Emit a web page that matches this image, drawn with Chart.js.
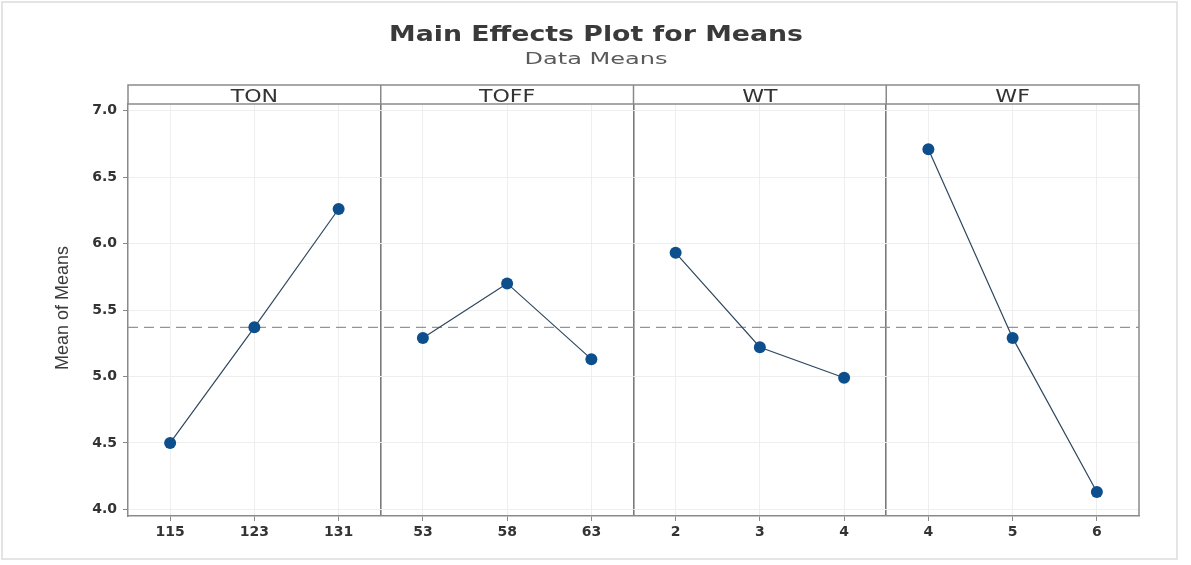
<!DOCTYPE html>
<html>
<head>
<meta charset="utf-8">
<script src="https://cdn.jsdelivr.net/npm/chart.js@4.4.1/dist/chart.umd.min.js"></script>
<style>
  html, body { margin: 0; padding: 0; background: #ffffff; }
  #wrap { width: 1191px; height: 565px; position: relative; }
</style>
</head>
<body>
<div id="wrap"><canvas id="c" width="1191" height="565"></canvas></div>
<script>
// ---- data ----
const chartTitle = 'Main Effects Plot for Means';
const chartSubtitle = 'Data Means';
const yAxisTitle = 'Mean of Means';
const factors = ['TON', 'TOFF', 'WT', 'WF'];
const tonLevels = ['115', '123', '131'];
const toffLevels = ['53', '58', '63'];
const wtLevels = ['2', '3', '4'];
const wfLevels = ['4', '5', '6'];
const tonMeans = [4.50, 5.37, 6.26];
const toffMeans = [5.29, 5.70, 5.13];
const wtMeans = [5.93, 5.22, 4.99];
const wfMeans = [6.71, 5.29, 4.13];
const grandMean = 5.37;
const yTicks = [4.0, 4.5, 5.0, 5.5, 6.0, 6.5, 7.0];
const yMin = 3.95, yMax = 7.05;

const levelSets = [tonLevels, toffLevels, wtLevels, wfLevels];
const meanSets = [tonMeans, toffMeans, wtMeans, wfMeans];
const nPanels = factors.length;
const perPanel = 3;
const xMax = nPanels * perPanel;

// category slot position on shared x scale
function slot(p, i) { return p * perPanel + i + 0.5; }
function isDivider(v) { return v > 0 && v < xMax && Math.abs(v % perPanel) < 1e-9; }
function labelAt(v) {
  if (Math.abs((v % 1) - 0.5) > 1e-9) return '';
  const p = Math.floor(v / perPanel);
  const i = Math.round(v - p * perPanel - 0.5);
  return (levelSets[p] && levelSets[p][i] !== undefined) ? levelSets[p][i] : '';
}

const POINT = '#0c4f8c';
const LINE = '#2e4860';

const datasets = meanSets.map((vals, p) => ({
  label: factors[p],
  data: vals.map((v, i) => ({ x: slot(p, i), y: v })),
  borderColor: LINE,
  borderWidth: 1.2,
  pointRadius: 6,
  pointHoverRadius: 6,
  pointBackgroundColor: POINT,
  pointBorderColor: POINT,
  pointBorderWidth: 0,
  tension: 0,
  order: 1
}));
datasets.push({
  label: 'mean',
  data: [{ x: 0, y: grandMean }, { x: xMax, y: grandMean }],
  borderColor: '#949494',
  borderWidth: 1.3,
  borderDash: [10, 6],
  pointRadius: 0,
  order: 10
});

function stretchText(ctx, text, x, y, font, color, sx, rot) {
  ctx.save();
  ctx.font = font;
  ctx.fillStyle = color;
  ctx.textAlign = 'center';
  ctx.textBaseline = 'alphabetic';
  ctx.translate(x, y);
  if (rot) ctx.rotate(rot);
  ctx.scale(sx, 1);
  ctx.fillText(text, 0, 0);
  ctx.restore();
}
function fitText(ctx, text, x, y, font, color, targetW) {
  ctx.save();
  ctx.font = font;
  const w = ctx.measureText(text).width;
  ctx.restore();
  stretchText(ctx, text, x, y, font, color, targetW / w, 0);
}

const framePlugin = {
  id: 'frame',
  afterDraw(chart) {
    const ctx = chart.ctx;
    const a = chart.chartArea;
    const xs = chart.scales.x;
    // outer border
    ctx.save();
    ctx.strokeStyle = '#dcdcdc';
    ctx.lineWidth = 1.5;
    ctx.strokeRect(2, 2, 1175, 557);
    ctx.restore();
    // titles
    fitText(ctx, chartTitle, 596, 41, 'bold 22px "DejaVu Sans"', '#3a3a3a', 414);
    fitText(ctx, chartSubtitle, 596, 64, '16px "DejaVu Sans"', '#5a5a5a', 143);
    // strip
    const sTop = 85;
    ctx.save();
    ctx.strokeStyle = '#8a8a8a';
    ctx.lineWidth = 1.5;
    ctx.fillStyle = '#ffffff';
    ctx.fillRect(a.left, sTop, a.right - a.left, a.top - sTop);
    ctx.strokeRect(a.left, sTop, a.right - a.left, a.top - sTop);
    ctx.beginPath();
    for (let p = 1; p < nPanels; p++) {
      const xp = xs.getPixelForValue(p * perPanel);
      ctx.moveTo(xp, sTop);
      ctx.lineTo(xp, a.top);
    }
    // right border of plot
    ctx.moveTo(a.right, a.top);
    ctx.lineTo(a.right, a.bottom);
    ctx.stroke();
    ctx.restore();
    for (let p = 0; p < nPanels; p++) {
      const cx = (xs.getPixelForValue(p * perPanel) + xs.getPixelForValue((p + 1) * perPanel)) / 2;
      stretchText(ctx, factors[p], cx, 101.5, '17px "DejaVu Sans"', '#333333', 1.3, 0);
    }
    // y-axis title
    stretchText(ctx, yAxisTitle, 68, 308, '18px "Liberation Sans"', '#3a3a3a', 1, -Math.PI / 2);
  }
};

new Chart(document.getElementById('c'), {
  type: 'line',
  data: { datasets },
  options: {
    responsive: false,
    animation: false,
    devicePixelRatio: 1,
    layout: { padding: { top: 104, right: 52, bottom: 0, left: 0 } },
    plugins: { legend: { display: false }, tooltip: { enabled: false }, title: { display: false } },
    scales: {
      x: {
        type: 'linear',
        min: 0,
        max: xMax,
        afterBuildTicks(scale) {
          const t = [];
          for (let p = 0; p < nPanels; p++) {
            for (let i = 0; i < perPanel; i++) t.push({ value: slot(p, i) });
            if (p > 0) t.push({ value: p * perPanel });
          }
          t.sort((m, n) => m.value - n.value);
          scale.ticks = t;
        },
        afterFit(scale) { scale.height = 49; },
        ticks: {
          autoSkip: false,
          maxRotation: 0,
          padding: 3,
          color: '#333333',
          font: { family: '"DejaVu Sans"', size: 14, weight: 'bold' },
          callback: (v) => labelAt(v)
        },
        grid: {
          color: (c) => (c.tick && isDivider(c.tick.value)) ? '#7a7a7a' : '#eeeeee',
          lineWidth: (c) => (c.tick && isDivider(c.tick.value)) ? 1.6 : 1,
          tickColor: (c) => (c.tick && isDivider(c.tick.value)) ? 'rgba(0,0,0,0)' : '#888888',
          tickWidth: 1,
          tickLength: 5
        },
        border: { color: '#8a8a8a', width: 1.5 }
      },
      y: {
        type: 'linear',
        min: yMin,
        max: yMax,
        afterBuildTicks(scale) { scale.ticks = yTicks.map(v => ({ value: v })); },
        afterFit(scale) { scale.width = 128; },
        ticks: {
          padding: 6,
          color: '#333333',
          font: { family: '"DejaVu Sans"', size: 14, weight: 'bold' },
          callback: (v) => Number(v).toFixed(1)
        },
        grid: { color: '#eeeeee', lineWidth: 1, tickColor: '#888888', tickLength: 5 },
        border: { color: '#8a8a8a', width: 1.5 }
      }
    }
  },
  plugins: [framePlugin]
});
</script>
</body>
</html>
